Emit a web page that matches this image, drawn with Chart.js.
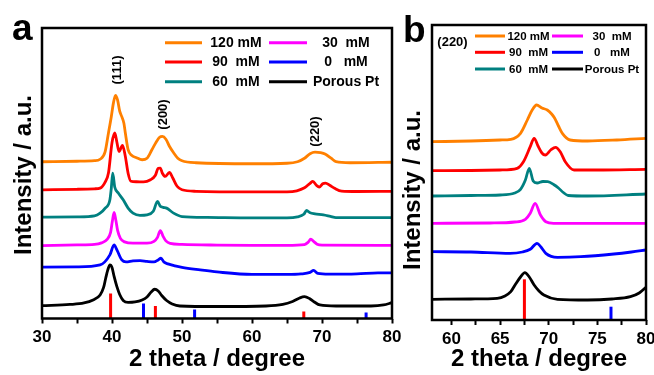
<!DOCTYPE html>
<html><head><meta charset="utf-8">
<script src="https://cdn.jsdelivr.net/npm/chart.js@4"></script>
<style>
html,body{margin:0;padding:0;background:#fff;width:654px;height:375px;overflow:hidden}
canvas{position:absolute;left:0;top:0}
</style></head><body>
<canvas id="ca" width="654" height="375"></canvas>
<canvas id="cb" width="654" height="375"></canvas>
<script>
// ---------- labels ----------
const seriesNames = ['120 mM', '90  mM', '60  mM', '30  mM', '0   mM', 'Porous Pt'];
const seriesColors = ['#FF8000', '#FF0000', '#008080', '#FF00FF', '#0000FF', '#000000'];
const peakLabelsA = ['(111)', '(200)', '(220)'];
const yTitle = 'Intensity / a.u.';
const xTitle = '2 theta / degree';

// ---------- panel a : [2theta, stacked intensity a.u.] ----------
const a120 = [[30,156.5],[35,157],[37.5,157.5],[38.3,159],[39,166],[39.5,185.5],[39.9,201.5],[40.2,215],[40.5,222.8],[40.8,218],[41.1,207],[41.4,201.5],[41.7,195],[41.9,185.5],[42.3,168.5],[42.8,163],[43.5,160.5],[44.3,158.5],[45,160],[45.7,168.5],[46.3,176],[46.8,181],[47.2,181.8],[47.7,179],[48.2,172],[48.8,165.5],[49.4,160],[50,157.5],[52,155.5],[60,154.5],[65,155],[66.5,156.5],[67.5,160],[68.3,164.5],[69,166],[69.8,165.5],[70.5,164],[71.3,160],[72,156.5],[74,155.5],[80,156]];
const a90 = [[30,128.5],[35,129],[37.5,129.5],[38.3,130.2],[39,136],[39.5,145.5],[40,175.5],[40.4,185.2],[40.7,176],[41,166.8],[41.5,172.8],[41.9,162],[42.3,145],[42.7,137],[43.5,136.5],[44.5,136.3],[45.5,138.5],[46.2,143],[46.6,150],[46.9,150.2],[47.2,145],[47.6,141.8],[48.2,145.8],[48.7,140],[49.3,132],[50,128.5],[52,127],[60,126.5],[65,126.5],[66.4,127.5],[67.5,130.5],[68.3,135],[68.7,136.8],[69.2,133],[69.6,131.2],[70.1,134.5],[70.5,135.2],[71.1,133],[71.8,130],[72.8,127.2],[75,126.8],[80,127]];
const a60 = [[30,101.2],[35,101.5],[37.5,102.5],[38.3,105.2],[39,110],[39.7,118.5],[39.9,130],[40.1,145],[40.4,131],[40.9,125.2],[41.6,118.5],[42.3,110.2],[43,105.2],[44,103],[45,103.5],[45.9,107],[46.5,117],[46.9,112],[47.3,111],[47.8,110.2],[48.8,105.2],[50,101.8],[53.6,101],[60,100.5],[65,100.5],[66.5,101.5],[67.4,104],[67.8,107.8],[68.3,105.5],[69,104.5],[70.2,103.5],[71.2,102],[72,100.8],[80,100.8]];
const a30 = [[30,72.8],[35,73.5],[37.5,74],[38.5,75.5],[39.3,79],[39.8,86],[40.05,97],[40.3,105.8],[40.55,98],[40.8,88],[41.2,80],[41.8,76.5],[43,75.2],[45,75.2],[46,77],[46.5,81],[46.9,87.8],[47.3,82],[47.7,77.5],[48.3,75],[50,74],[55,73.3],[60,73],[65,73],[67.5,73.8],[68,76],[68.4,79.2],[68.8,77],[69.3,74.2],[70,73.3],[80,73]];
const a0 = [[30,51.2],[35,51.5],[38.3,53.5],[39.7,63.5],[40.3,73.5],[40.7,68.5],[41.4,58.5],[42,56.5],[43,57.5],[44,57.8],[45,57],[46,56.5],[46.6,58.5],[47,60.2],[47.4,56.5],[48,54.5],[49,52.5],[50,51],[52.6,48.5],[55,46.5],[60,44],[65,44],[67,44.5],[68.3,46],[68.8,48],[69.4,45],[71,44.2],[75,44.5],[78,45.5],[80,45.5]];
const aPt = [[30,12.8],[34,14],[36,15.5],[37.3,18.5],[38.3,23.5],[38.8,31],[39.1,40.2],[39.4,48.5],[39.7,53.5],[40,51],[40.3,42],[40.7,31.8],[41.1,24],[41.6,18],[42.3,16],[43.3,16.5],[44.3,18.5],[45,21.5],[45.6,26.5],[46.1,29.2],[46.6,27.5],[47.1,23],[47.8,18],[48.6,14.5],[49.7,12.5],[55,12],[62,12.5],[64.4,14],[65.8,17],[66.8,20.5],[67.5,21.8],[68.2,20],[68.9,16.5],[69.7,13.5],[72,12.5],[77,12.5],[78.8,13.5],[80,15.8]];
// reference lines (Pt red, Ni blue)
const refPtXA = [39.8, 46.2, 67.4];
const refPtHA = [25, 12.5, 7];
const refNiXA = [44.5, 51.8, 76.3];
const refNiHA = [15, 9, 6];
const ticksA = [30, 35, 40, 45, 50, 55, 60, 65, 70, 75, 80];
const tickLabelsA = [30, 40, 50, 60, 70, 80];

// ---------- panel b ----------
const b120 = [[58,178.3],[62,179],[65,180],[66.1,180.7],[67.1,186.7],[67.8,200],[68.3,210],[68.75,215],[69.3,212],[69.85,210],[70.3,206],[70.6,202],[71,194],[71.4,186.7],[72.2,180],[74,179],[77,180],[80,181.7]];
const b90 = [[58,149.3],[62,149.5],[65,150],[66.75,151.7],[67.4,158.3],[68.1,173.3],[68.5,181.7],[68.9,174],[69.3,167],[69.65,165],[70.2,170],[70.7,172.7],[71.2,168],[71.7,158.3],[72.6,150],[75,150],[80,150.7]];
const b60 = [[58,124],[62,124.5],[65,125],[66.5,127],[67.1,130.7],[67.6,140],[68,151.7],[68.4,139],[68.8,137],[69.4,138.5],[69.9,138.3],[70.5,135.5],[71,132],[71.5,127.5],[72,124.5],[74,124],[80,126]];
const b30 = [[58,96.7],[64,97],[66.5,98],[67.6,100.7],[68.1,106.7],[68.6,116.7],[69.15,105],[69.7,98.3],[70.5,96.7],[80,96.7]];
const b0 = [[58,68.3],[62,68],[66,66.7],[67.3,68],[68.1,70.7],[68.8,76.7],[69.2,73],[69.7,66.7],[70.9,62.7],[73.3,63.3],[76.7,66],[78.5,68],[80,70]];
const bPt = [[58,20.7],[62,21],[64.7,21.7],[65.5,24],[66.1,28.3],[66.6,36],[67.1,43],[67.55,47.3],[68,43],[68.5,35],[69,29],[69.5,25],[70.9,20.7],[74,20],[76.5,21],[78.4,23.3],[79.3,27],[80,32.7]];
const refPtXB = [67.5];
const refPtHB = [40.7];
const refNiXB = [76.4];
const refNiHB = [13.3];
const ticksB = [60, 62.5, 65, 67.5, 70, 72.5, 75, 77.5, 80];
const tickLabelsB = [60, 65, 70, 75, 80];

// ---------- helpers ----------
const FAM = "'Liberation Sans', Arial, Helvetica, sans-serif";
const toXY = arr => arr.map(p => ({x: p[0], y: p[1]}));

function curveSets(list) {
  return list.map((d, i) => ({
    label: seriesNames[i], data: toXY(d), borderColor: seriesColors[i],
    borderWidth: 2.8, pointRadius: 0, cubicInterpolationMode: 'monotone',
    borderJoinStyle: 'round', fill: false
  }));
}
function refSets(xs, hs, color) {
  return xs.map((x, i) => ({
    label: 'ref', data: [{x: x, y: 0}, {x: x, y: hs[i]}], borderColor: color,
    borderWidth: 3, pointRadius: 0, fill: false, borderCapStyle: 'butt'
  }));
}
function xScale(min, max, tickVals, labelVals, h) {
  return {
    type: 'linear', min: min, max: max,
    afterBuildTicks: s => { s.ticks = tickVals.map(v => ({value: v})); },
    afterFit: s => { s.height = h; s.paddingLeft = 0; s.paddingRight = 0; },
    ticks: {
      callback: v => labelVals.includes(v) ? String(v) : '',
      font: {family: FAM, size: 17, weight: 'bold'}, color: '#000',
      padding: 4, maxRotation: 0, autoSkip: false
    },
    grid: {drawOnChartArea: false, drawTicks: true, tickLength: 5, tickWidth: 2, tickColor: '#000'},
    border: {display: false},
    title: {display: true, text: xTitle, font: {family: FAM, size: 24, weight: 'bold'}, color: '#000', padding: {top: 0, bottom: 1}}
  };
}
function rotText(ctx, txt, x, y, font) {
  ctx.save(); ctx.translate(x, y); ctx.rotate(-Math.PI / 2);
  ctx.font = font; ctx.textAlign = 'center'; ctx.textBaseline = 'middle';
  ctx.fillText(txt, 0, 0); ctx.restore();
}
function legendDraw(ctx, L) {
  ctx.font = L.font; ctx.textAlign = 'center'; ctx.textBaseline = 'middle';
  seriesNames.forEach((name, i) => {
    const col = Math.floor(i / 3), row = i % 3;
    const c = L.cols[col], y = L.rows[row];
    ctx.strokeStyle = seriesColors[i]; ctx.lineWidth = 3; ctx.lineCap = 'butt';
    ctx.beginPath(); ctx.moveTo(c[0], y); ctx.lineTo(c[1], y); ctx.stroke();
    ctx.fillStyle = '#000'; ctx.fillText(name, c[2], y + 0.5);
  });
}
function deco(opts) {
  return {
    id: 'deco',
    afterDraw(chart) {
      const ctx = chart.ctx, ca = chart.chartArea;
      ctx.save();
      ctx.strokeStyle = '#000'; ctx.lineWidth = 2.5;
      ctx.strokeRect(ca.left, ca.top, ca.right - ca.left, ca.bottom - ca.top);
      ctx.fillStyle = '#000';
      legendDraw(ctx, opts.legend);
      rotText(ctx, yTitle, opts.yTitle[0], opts.yTitle[1], "bold 24px " + FAM);
      ctx.font = "bold 37px " + FAM; ctx.textAlign = 'left'; ctx.textBaseline = 'alphabetic';
      ctx.fillText(opts.letter[0], opts.letter[1], opts.letter[2]);
      opts.extra(ctx);
      ctx.restore();
    }
  };
}
Chart.defaults.font.family = FAM;

// ---------- panel a ----------
new Chart(document.getElementById('ca'), {
  type: 'line',
  data: {datasets: [...refSets(refPtXA, refPtHA, '#FF0000'), ...refSets(refNiXA, refNiHA, '#0000FF'),
                    ...curveSets([a120, a90, a60, a30, a0, aPt])]},
  options: {
    responsive: false, animation: false, devicePixelRatio: 1,
    layout: {padding: {left: 42, right: 262, top: 28, bottom: 0}},
    plugins: {legend: {display: false}, tooltip: {enabled: false}},
    scales: {x: xScale(30, 80, ticksA, tickLabelsA, 56.5), y: {display: false, min: 0, max: 290}}
  },
  plugins: [deco({
    legend: {font: "bold 14px " + FAM, cols: [[165, 202, 236], [269, 307, 346]], rows: [42.7, 62, 81.7]},
    yTitle: [24, 175], letter: ['a', 12, 40],
    extra: ctx => {
      const f = "bold 13px " + FAM;
      rotText(ctx, peakLabelsA[0], 117.5, 70, f);
      rotText(ctx, peakLabelsA[1], 163.5, 114.5, f);
      rotText(ctx, peakLabelsA[2], 315, 131.5, f);
    }
  })]
});

// ---------- panel b ----------
new Chart(document.getElementById('cb'), {
  type: 'line',
  data: {datasets: [...refSets(refPtXB, refPtHB, '#FF0000'), ...refSets(refNiXB, refNiHB, '#0000FF'),
                    ...curveSets([b120, b90, b60, b30, b0, bPt])]},
  options: {
    responsive: false, animation: false, devicePixelRatio: 1,
    layout: {padding: {left: 432, right: 8, top: 25, bottom: 0}},
    plugins: {legend: {display: false}, tooltip: {enabled: false}},
    scales: {x: xScale(58, 80, ticksB, tickLabelsB, 55), y: {display: false, min: 0, max: 295}}
  },
  plugins: [deco({
    legend: {font: "bold 11.5px " + FAM, cols: [[475, 505, 528.5], [552, 583, 612]], rows: [36, 52.3, 69]},
    yTitle: [413, 190], letter: ['b', 403, 41.7],
    extra: ctx => {
      ctx.font = "bold 13px " + FAM; ctx.textAlign = 'center'; ctx.textBaseline = 'middle';
      ctx.fillText(peakLabelsA[2], 452.5, 42.7);
    }
  })]
});
</script>
</body></html>
